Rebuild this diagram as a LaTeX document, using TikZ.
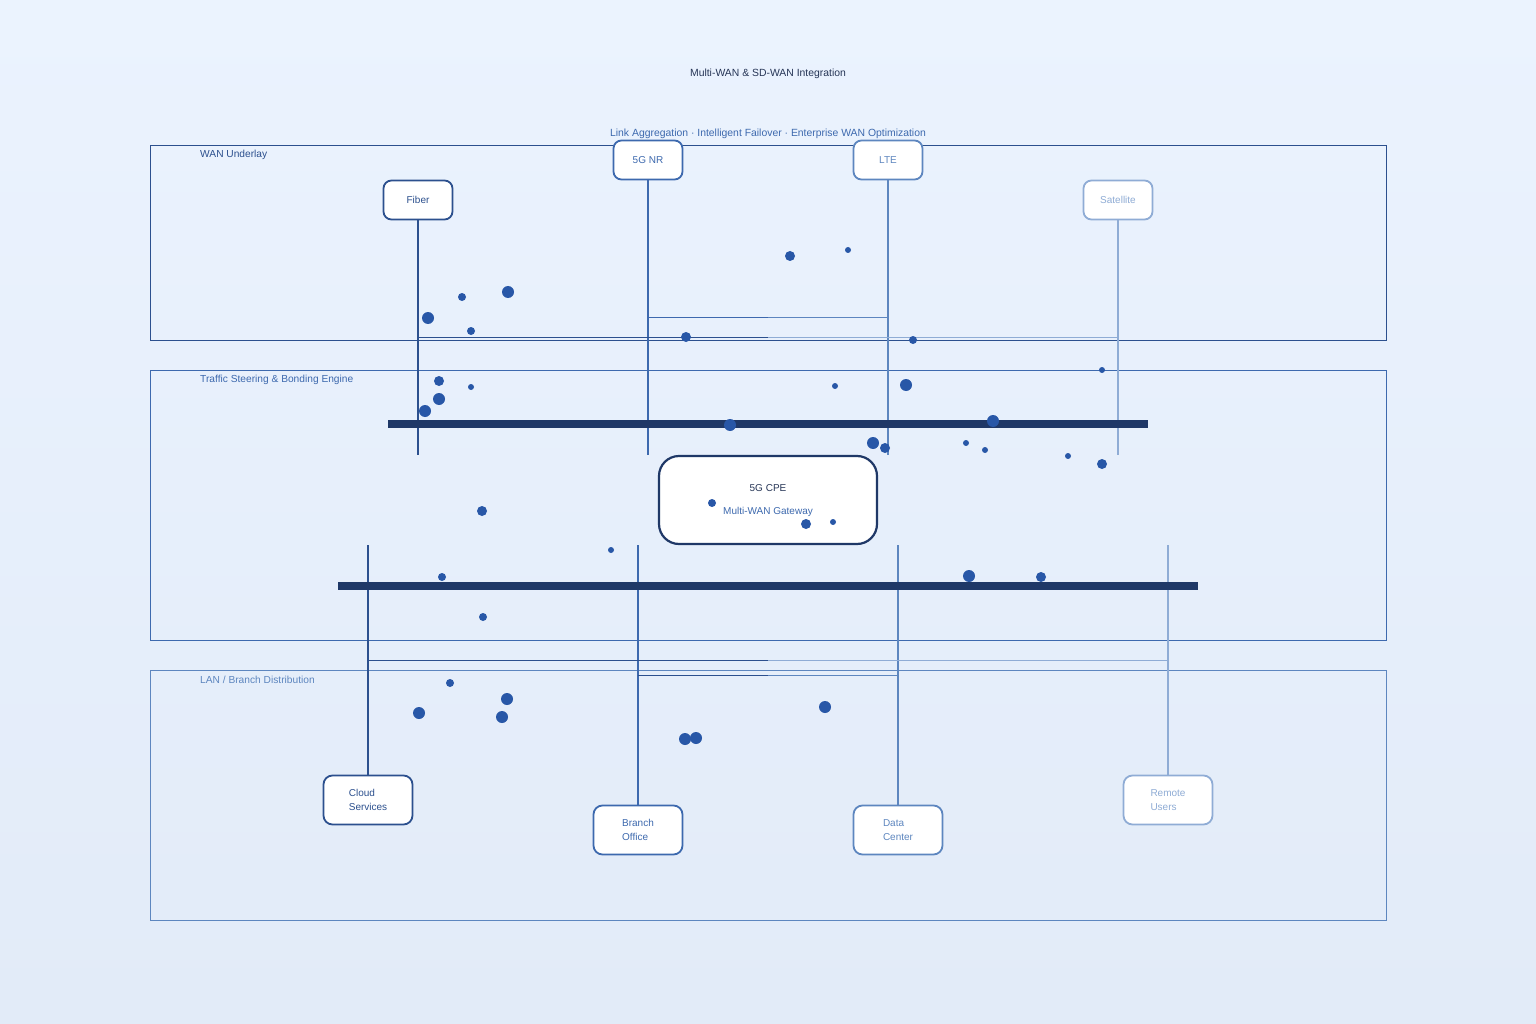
\documentclass[tikz,border=0pt]{standalone}
\usepackage{fontspec}
\setmainfont{Liberation Sans}
\usetikzlibrary{positioning,shapes}

\definecolor{bgtop}{HTML}{EBF3FE}
\definecolor{bgbot}{HTML}{E2EBF8}
\definecolor{navy}{HTML}{1F3867}
\definecolor{titlecol}{HTML}{263556}
\definecolor{tierA}{HTML}{2C508E}
\definecolor{tierB}{HTML}{3D69AE}
\definecolor{tierC}{HTML}{5D86BF}
\definecolor{tierD}{HTML}{8FACD5}
\definecolor{dotblue}{HTML}{2857A7}

\begin{document}
\begin{tikzpicture}[x=1pt, y=-1pt]
	\tikzstyle{panel}
	  =[draw, line width=0.9pt]
	\tikzstyle{panellabel}
	  =[anchor=west, inner sep=0, font=\fontsize{10.2}{12}\selectfont]
	\tikzstyle{wan}
	  =[draw, rectangle, rounded corners=8pt, fill=white, line width=1.8pt,
	  minimum width=69pt, minimum height=39pt, font=\fontsize{10}{12}\selectfont]
	\tikzstyle{site}
	  =[draw, rectangle, rounded corners=9pt, fill=white, line width=1.8pt,
	  minimum width=89pt, minimum height=49pt, align=left,
	  font=\fontsize{10}{14}\selectfont]
	\tikzstyle{link}
	  =[line width=1.5pt]
	\tikzstyle{bond}
	  =[navy, line width=8pt]

	% background and frame
	\fill[top color=bgtop, bottom color=bgbot] (0,0) rectangle (1536,1024);
	\useasboundingbox (0,0) rectangle (1536,1024);

	\node[font=\fontsize{10.4}{12}\selectfont, text=titlecol] (title)
	  at (768,74) {Multi-WAN \& SD-WAN Integration};
	\node[font=\fontsize{10.4}{12}\selectfont, text=tierB] (subtitle)
	  at (768,134) {Link Aggregation · Intelligent Failover · Enterprise WAN Optimization};

	% layers
	\draw[panel, tierA] (150,145) rectangle (1386,340);
	\node[panellabel, text=tierA] (lwan) at (200,155) {WAN Underlay};
	\draw[panel, tierB] (150,370) rectangle (1386,640);
	\node[panellabel, text=tierB] (lbond) at (200,380) {Traffic Steering \& Bonding Engine};
	\draw[panel, tierC] (150,670) rectangle (1386,920);
	\node[panellabel, text=tierC] (llan) at (200,680) {LAN / Branch Distribution};

	% wan links
	\node[wan, draw=tierA, text=tierA] (fiber) at (418,200) {Fiber};
	\node[wan, draw=tierB, text=tierB] (nr) at (648,160) {5G NR};
	\node[wan, draw=tierC, text=tierC] (lte) at (888,160) {LTE};
	\node[wan, draw=tierD, text=tierD] (sat) at (1118,200) {Satellite};

	\coordinate (fiberend) at (418,455);
	\coordinate (nrend) at (648,455);
	\coordinate (lteend) at (888,455);
	\coordinate (satend) at (1118,455);
	\coordinate (pairup) at (768,317);
	\coordinate (pairlow) at (768,337);

	\draw[link, tierA] (fiber) -- (fiberend);
	\draw[link, tierB] (nr) -- (nrend);
	\draw[link, tierC] (lte) -- (lteend);
	\draw[link, tierD] (sat) -- (satend);
	\draw[tierB] (nr |- pairup) -- (pairup);
	\draw[tierC] (lte |- pairup) -- (pairup);
	\draw[tierA] (fiber |- pairlow) -- (pairlow);
	\draw[tierD] (sat |- pairlow) -- (pairlow);

	% gateway
	\node[draw=navy, line width=2.2pt, fill=white, rectangle, rounded corners=20pt,
	  minimum width=218pt, minimum height=88pt] (cpe) at (768,500) {};
	\node[font=\fontsize{10}{12}\selectfont, text=titlecol] (cpename)
	  at (768,488) {5G CPE};
	\node[font=\fontsize{10}{12}\selectfont, text=tierB] (cpesub)
	  [below=24pt of cpename.center, anchor=center] {Multi-WAN Gateway};

	% lan sites
	\node[site, draw=tierA, text=tierA] (cloud) at (368,800) {Cloud\\Services};
	\node[site, draw=tierB, text=tierB] (branch) at (638,830) {Branch\\Office};
	\node[site, draw=tierC, text=tierC] (dc) at (898,830) {Data\\Center};
	\node[site, draw=tierD, text=tierD] (remote) at (1168,800) {Remote\\Users};

	\coordinate (cloudtop) at (368,545);
	\coordinate (branchtop) at (638,545);
	\coordinate (dctop) at (898,545);
	\coordinate (remotetop) at (1168,545);
	\coordinate (siteup) at (768,660);
	\coordinate (sitelow) at (768,675);

	\draw[link, tierA] (cloudtop) -- (cloud);
	\draw[link, tierB] (branchtop) -- (branch);
	\draw[link, tierC] (dctop) -- (dc);
	\draw[link, tierD] (remotetop) -- (remote);
	\draw[tierA] (cloud |- siteup) -- (siteup);
	\draw[tierD] (remote |- siteup) -- (siteup);
	\draw[tierA] (branch |- sitelow) -- (sitelow);
	\draw[tierC] (dc |- sitelow) -- (sitelow);

	% bonding bars
	\coordinate (bondAw) at (388,424);
	\coordinate (bondAe) at (1148,424);
	\coordinate (bondBw) at (338,586);
	\coordinate (bondBe) at (1198,586);
	\draw[bond] (bondAw) -- (bondAe);
	\draw[bond] (bondBw) -- (bondBe);

	% packets
	\foreach \x/\y/\r in {790/256/5, 848/250/3, 462/297/4, 508/292/6,
	  428/318/6, 471/331/4, 686/337/5, 913/340/4, 1102/370/3,
	  439/381/5, 471/387/3, 835/386/3, 906/385/6, 439/399/6, 425/411/6,
	  730/425/6, 993/421/6, 873/443/6, 885/448/5, 966/443/3, 985/450/3,
	  1068/456/3, 1102/464/5, 482/511/5, 712/503/4, 806/524/5, 833/522/3,
	  611/550/3, 442/577/4, 969/576/6, 1041/577/5, 483/617/4,
	  450/683/4, 507/699/6, 419/713/6, 502/717/6, 685/739/6, 696/738/6,
	  825/707/6}
	  \fill[dotblue] (\x,\y) circle (\r);
\end{tikzpicture}
\end{document}
